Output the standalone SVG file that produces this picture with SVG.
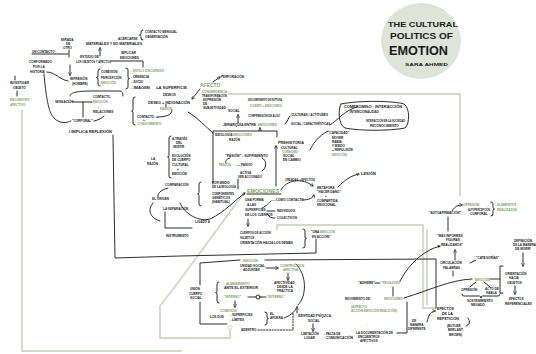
<svg xmlns="http://www.w3.org/2000/svg" width="536" height="354" viewBox="0 0 536 354">
<style>
text{font-family:"Liberation Sans",Arial,sans-serif;font-size:3.1px;font-weight:bold;fill:#1a1a1a}
text.g{fill:#84a066}
.ln{fill:none;stroke:#222;stroke-width:0.95;stroke-linecap:round;stroke-linejoin:round}
.gl{fill:none;stroke:#d2d8ca;stroke-width:1.8;stroke-linejoin:round}
.dt{stroke-dasharray:1.4 1.4}
</style>
<defs>
<marker id="ah" viewBox="0 0 6 6" refX="5" refY="3" markerWidth="3.5" markerHeight="3.5" orient="auto"><path d="M0,0 L6,3 L0,6" fill="none" stroke="#222" stroke-width="1.1"/></marker>
</defs>
<rect width="536" height="354" fill="#fff"/>

<g id="connectors">
<path class="gl" d="M22,110 V351 H182"/>
<path class="gl" d="M228,94 H460 V196"/>
<path class="gl" d="M244,193 L180,280 L160,306 V338 H230 V330"/>
<circle cx="230" cy="327.5" r="2" class="gl" style="stroke-width:1"/>
<path class="gl" d="M277,230 V225 H423 V308 H436"/>
<path class="gl" d="M427,229 V305"/>
<path class="ln" d="M32,54 H68 M69,50 V57"/>
<path class="ln" d="M100,56 V48" marker-end="url(#ah)"/>
<path class="ln" d="M111,61 H143 V67"/>
<path class="ln" d="M70,65 V75" marker-end="url(#ah)"/>
<path class="ln" d="M47,72 C55,72 60,80 68,81"/>
<path class="ln" d="M44,74 C46,95 48,112 54,118 C60,124 66,123 71,121"/>
<path class="ln" d="M94,121 C99,120 102,118 104,116"/>
<path class="ln" d="M70,96 C70,92 78,91 95,91 L120,91 Q123,91 123,96"/>
<path class="ln" d="M73,102 H92 M83,102 V117"/>
<path class="ln" d="M15,76 V80 M17,91 V96"/>
<path class="ln" d="M143,30 Q141,30 141,32 V33.5 Q141,35 139.5,35 Q141,35 141,36.5 V38 Q141,40 143,40"/>
<path class="ln" d="M100,69 Q98,69 98,71 V76 Q98,77.5 96.5,77.5 Q98,77.5 98,79 V84 Q98,86 100,86"/>
<path class="ln" d="M126,68 Q128,68 128,70 V77 Q128,78.5 129.5,78.5 Q128,78.5 128,80 V87 Q128,89 126,89"/>
<path class="ln" d="M135,97 Q133,97 133,99 V109.5 Q133,111 131.5,111 Q133,111 133,112.5 V123 Q133,125 135,125"/>
<path class="ln" d="M166,104.5 V107"/>
<path class="ln" d="M157,117 C166,117 172,115 172,110"/>
<path class="ln" d="M171,136 Q169,136 169,138 V155.5 Q169,157 167.5,157 Q169,157 169,158.5 V176 Q169,178 171,178"/>
<path class="ln" d="M113,135 L114,200 L115,258 L180,256 L316,253 V239"/>
<path class="ln" d="M303,229 Q305,229 305,231 V237 Q305,238.5 306.5,238.5 Q305,238.5 305,240 V246 Q305,248 303,248"/>
<path class="ln" d="M200,285 V263 L240,260 M265,260 L436,259 V308"/>
<path class="ln" d="M200,302 V324 H227"/>
<path class="ln" d="M200,89 L192,99" marker-end="url(#ah)"/>
<path class="ln" d="M188,112 C198,118 205,126 213,133"/>
<path class="ln" d="M238,123 V115" marker-end="url(#ah)"/>
<path class="ln" d="M285,124 C288,122 288,117 290,116"/>
<path class="ln" d="M330,125 C338,120 345,110 357,107"/>
<path class="ln" d="M328,131 C318,136 312,145 310,150"/>
<path class="ln" d="M341,104 C360,100 395,101 404,104 C410,108 410,124 405,128 C390,131 360,131 345,128 C338,125 338,108 341,104"/>
<path class="ln" d="M213,184 V131 H277 V137"/>
<path class="ln" d="M260,131 V128" marker-end="url(#ah)"/>
<path class="ln" d="M276,186 V146" marker-end="url(#ah)"/>
<path class="ln" d="M230,158 C226,159 225,161 226,163"/>
<path class="ln" d="M262,158 C267,160 267,168 262,171"/>
<path class="ln" d="M238,179 V189"/>
<path class="ln" d="M201,182 Q199,182 199,184 V192.5 Q199,194 197.5,194 Q199,194 199,195.5 V204 Q199,206 201,206"/>
<path class="ln" d="M247,194 H281"/>
<path class="ln" d="M281,190 C286,180 302,177 313,186" marker-end="url(#ah)"/>
<path class="ln" d="M338,187 C345,180 350,176 359,174" marker-end="url(#ah)"/>
<path class="ln" d="M302,200 C309,200 313,198 314,195" marker-end="url(#ah)"/>
<path class="ln" d="M262,208 C267,206 269,203 271,201"/>
<path class="ln" d="M267,211 H275 M267,214 C270,218 272,218 275,218"/>
<path class="ln" d="M248,219 V226" marker-end="url(#ah)"/>
<path class="ln" d="M168,188 C160,190 157,194 158,197"/>
<path class="ln" d="M153,203 C147,210 150,218 160,221"/>
<path class="ln" d="M165,212 V228 H192"/>
<path class="ln" d="M180,203 C185,215 200,222 210,219 C225,212 235,200 245,193" marker-end="url(#ah)"/>
<path class="ln" d="M266,268 H278" marker-end="url(#ah)"/>
<path class="ln" d="M288,273 V280" marker-end="url(#ah)"/>
<path class="ln" d="M296,264 C307,275 307,296 298,305"/>
<path class="ln" d="M297,313 V307" marker-end="url(#ah)"/>
<path class="ln" d="M219,282 Q217,282 217,284 V291 Q217,292.5 215.5,292.5 Q217,292.5 217,294 V301 Q217,303 219,303"/>
<circle cx="258" cy="297" r="2" class="ln"/>
<path class="ln" d="M248,297 H256 M260,297 H266"/>
<path class="ln" d="M235,301 V307" marker-end="url(#ah)"/>
<path class="ln" d="M265,312 Q267,312 267,314 V317 Q267,318.5 268.5,318.5 Q267,318.5 267,320 V323 Q267,325 265,325"/>
<path class="ln" d="M284,318 C290,316 294,312 296,309"/>
<path class="ln dt" d="M258,330 H293 V313"/>
<path class="ln" d="M313,324 V331" marker-end="url(#ah)"/>
<path class="ln" d="M375,283 H380"/>
<path class="ln" d="M393,287 V296"/>
<path class="ln" d="M400,281 C410,262 425,250 440,246" marker-end="url(#ah)"/>
<path class="ln" d="M404,298 C430,290 450,280 472,279"/>
<path class="ln" d="M455,260 V250" marker-end="url(#ah)"/>
<path class="ln" d="M470,263 L476,260"/>
<path class="ln" d="M453,271 V276"/>
<path class="ln" d="M397,333 H407 V302"/>
<path class="ln" d="M427,322 C429,314 431,311 435,311" marker-end="url(#ah)"/>
<path class="ln" d="M468,318 C471,322 469,325 466,326"/>
<path class="ln" d="M476,282 L470,287 M484,282 L490,287"/>
<path class="ln" d="M462,294 Q462,296 464,296 H479.5 Q481,296 481,298 Q481,296 482.5,296 H498 Q500,296 500,294"/>
<path class="ln" d="M490,279 H500 M503,266 H500 V293 H503"/>
<path class="ln" d="M515,286 V294" marker-end="url(#ah)"/>
<path class="ln" d="M523,253 V266" marker-end="url(#ah)"/>
<path class="ln" d="M452,211 C455,206 458,205 462,205" marker-end="url(#ah)"/>
<path class="ln" d="M448,217 V231"/>
<path class="ln" d="M491,202 Q493,202 493,204 V207.5 Q493,209 494.5,209 Q493,209 493,210.5 V214 Q493,216 491,216"/>
<path class="ln" d="M213,82 L220,77" marker-end="url(#ah)"/>
</g>

<g id="title">
<ellipse cx="421" cy="41" rx="40" ry="38" fill="#dfe4d8"/>
<text x="388" y="27" style="font-size:8px" textLength="70" lengthAdjust="spacingAndGlyphs">THE CULTURAL</text>
<text x="390" y="39" style="font-size:8.5px" textLength="63" lengthAdjust="spacingAndGlyphs">POLITICS OF</text>
<text x="389" y="55" style="font-size:13px" textLength="59" lengthAdjust="spacingAndGlyphs">EMOTION</text>
<text x="405" y="66" style="font-size:4.2px" textLength="43" lengthAdjust="spacingAndGlyphs">SARA AHMED</text>
</g>

<g id="n-mirada"><text x="61" y="41">MIRADA</text><text x="66" y="45">DE</text><text x="63" y="49">OTRO</text></g>
<g id="n-acercarse"><text x="118" y="40">ACERCARSE</text><text x="145" y="33" textLength="32" lengthAdjust="spacingAndGlyphs">CONTACTO MENSUAL</text><text x="145" y="38">OBSERVACIÓN</text></g>
<g id="n-materiales"><text x="86" y="45" textLength="56" lengthAdjust="spacingAndGlyphs">MATERIALES Y NO MATERIALES</text></g>
<g id="n-contacto"><text x="32" y="52.5">UN CONTACTO</text></g>
<g id="n-estudio"><text x="80" y="58">ESTUDIO DE</text><text x="76" y="63" textLength="35" lengthAdjust="spacingAndGlyphs">LOS OBJETOS Y AFECTOS</text></g>
<g id="n-implicar"><text x="121" y="54">IMPLICAR</text><text x="120" y="58.5">EMOCIONES</text></g>
<g id="n-conformado"><text x="29" y="63">CONFORMADO</text><text x="33" y="68">POR LA</text><text x="30" y="73">HISTORIA</text></g>
<g id="n-impresion"><text x="70" y="80">IMPRESIÓN</text><text x="72" y="85">(HOMBRE)</text></g>
<g id="n-conexion"><text x="101" y="73">CONEXIÓN</text><text x="101" y="78.5">PERCEPCIÓN</text><text x="101" y="84" class="g">EMOCIÓN</text></g>
<g id="n-estilo"><text x="131" y="72" class="g">- ESTILO DISCURSIVO</text><text x="131" y="78">- CREENCIA</text><text x="131" y="83">- JUICIO</text><text x="131" y="89" textLength="56" lengthAdjust="spacingAndGlyphs">- IMAGEN → LA SUPERFICIE</text></g>
<g id="n-investigar"><text x="10" y="84">INVESTIGAR</text><text x="13" y="89">OBJETO</text></g>
<g id="n-encuentro"><text x="10" y="101" class="g">ENCUENTRO</text><text x="10" y="106" class="g">AFECTIVO</text></g>
<g id="n-sensacion"><text x="55" y="103">SENSACIÓN</text></g>
<g id="n-relaciones"><text x="93" y="98">CONTACTO-</text><text x="93" y="103" class="g">EMOCIÓN</text><text x="98" y="108">↓</text><text x="93" y="113">RELACIONES</text></g>
<g id="n-corporal"><text x="72" y="122">"CORPORAL"</text></g>
<g id="n-reflexion"><text x="69" y="133" textLength="43" lengthAdjust="spacingAndGlyphs">I IMPLICA REFLEXIÓN</text></g>
<g id="n-deseo"><text x="163" y="96">DESEOS</text><text x="148" y="103.5" textLength="42" lengthAdjust="spacingAndGlyphs">DESEO + INDIGNACIÓN</text><text x="160" y="110" class="g">PASIÓN</text><text x="137" y="118">CONTACTO —</text><text x="143" y="121">+</text><text x="137" y="124.5" class="g">CONOCIMIENTO</text></g>
<g id="n-afecto"><text x="200" y="87" class="g" style="font-size:5px">AFECTO</text><text x="221" y="78">PERFORACIÓN</text></g>
<g id="n-subjetividad"><text x="202" y="92.5" class="g">CONVERGENCIA</text><text x="202" y="96.5" textLength="25" lengthAdjust="spacingAndGlyphs">TRANSFORMACIÓN</text><text x="203" y="101">EXPRESIÓN</text><text x="203" y="105">DE</text><text x="203" y="109" textLength="23" lengthAdjust="spacingAndGlyphs">SUBJETIVIDAD</text></g>
<g id="n-social"><text x="228" y="112">SOCIAL</text></g>
<g id="n-ruptura"><text x="248" y="101" textLength="34" lengthAdjust="spacingAndGlyphs">DESCUBRIMIENTO DE RUPTURA</text><text x="250" y="107" class="g" textLength="32" lengthAdjust="spacingAndGlyphs">(CUERPO + EMOCIONES)</text><text x="248" y="117" textLength="32" lengthAdjust="spacingAndGlyphs">COMPRENSIÓN DE ALGO</text></g>
<g id="n-jerarquia"><text x="223" y="126" textLength="33" lengthAdjust="spacingAndGlyphs">JERARQUÍA ENTRE</text><text x="258" y="126" class="g">EMOCIONES</text><text x="291" y="116" textLength="37" lengthAdjust="spacingAndGlyphs">CULTURAS / ACTITUDES</text><text x="291" y="125" textLength="39" lengthAdjust="spacingAndGlyphs">SOCIAL / CARACTERÍSTICAS</text></g>
<g id="n-compromiso"><text x="344" y="108" textLength="58" lengthAdjust="spacingAndGlyphs">COMPROMISO · INTERACCIÓN</text><text x="350" y="113">INTENCIONALIDAD</text><text x="366" y="122" textLength="39" lengthAdjust="spacingAndGlyphs">INTERACCIÓN EN LA SOCIEDAD</text><text x="370" y="127">RECONOCIMIENTO</text></g>
<g id="n-ideologia"><text x="215" y="136">IDEOLOGÍA</text><text x="233" y="136" class="g">EMOCIONES</text><text x="229" y="141">RAZÓN</text></g>
<g id="n-prehistoria"><text x="278" y="144" style="font-size:3.8px">PREHISTORIA</text><text x="281" y="149">CULTURAL</text><text x="282" y="153" class="g">CONSUMO</text><text x="283" y="157">SOCIAL</text><text x="283" y="161">EN CAMBIO</text></g>
<g id="n-capacidad"><text x="328" y="134">"CAPACIDAD"</text><text x="332" y="139">MOVER</text><text x="332" y="143">RABIA</text><text x="332" y="147">Y MIEDO</text><text x="332" y="151">+ REPULSIÓN</text><text x="332" y="156" class="g">EMOCIÓN</text></g>
<g id="n-pasion"><text x="225" y="157" textLength="43" lengthAdjust="spacingAndGlyphs">"PASIÓN" - SUFRIMIENTO</text><text x="219" y="166" class="g">PASIÓN</text><text x="237" y="166">— PASIVO</text><text x="240" y="174">ACTIVA</text><text x="238" y="178" textLength="24" lengthAdjust="spacingAndGlyphs">SER ACCIONADO</text></g>
<g id="n-razon"><text x="151" y="160">LA</text><text x="147" y="165">RAZÓN</text></g>
<g id="n-evolucion"><text x="172" y="140">A TRAVÉS</text><text x="176" y="144">DEL</text><text x="173" y="148">SENTIR</text><text x="177" y="152">↓</text><text x="172" y="157">EVOLUCIÓN</text><text x="172" y="161">DE CUERPO</text><text x="172" y="166">CULTURAL</text><text x="177" y="170">+</text><text x="172" y="175">EMOCIÓN</text></g>
<g id="n-biologia"><text x="212" y="184">POR MEDIO</text><text x="212" y="188" textLength="24" lengthAdjust="spacingAndGlyphs">DE LA BIOLOGÍA</text><text x="212" y="195" textLength="22" lengthAdjust="spacingAndGlyphs">COMPONENTES</text><text x="212" y="199">GENÉTICOS</text><text x="212" y="203">(HABITUAL)</text></g>
<g id="n-emociones"><text x="247" y="192.5" class="g" style="font-size:5.3px">EMOCIONES</text></g>
<g id="n-creadas"><text x="285" y="180.5" textLength="30" lengthAdjust="spacingAndGlyphs">CREADAS · (EFECTOS)</text></g>
<g id="n-metafora"><text x="317" y="189">METÁFORA</text><text x="317" y="193">"HACER DAÑO"</text><text x="325" y="197">+</text><text x="317" y="202">COMPARTIDA</text><text x="317" y="206">EMOCIONAL</text></g>
<g id="n-lesion"><text x="361" y="175" style="font-size:4px">LESIÓN</text></g>
<g id="n-superficies"><text x="245" y="201">UNA FORMA</text><text x="247" y="205.5">A LAS</text><text x="245" y="211">SUPERFICIES</text><text x="245" y="216">DE LOS CUERPOS</text></g>
<g id="n-comocontacto"><text x="272" y="201">— COMO CONTACTO</text></g>
<g id="n-individuos"><text x="277" y="212">INDIVIDUOS</text><text x="277" y="219">COLECTIVOS</text></g>
<g id="n-orientacion"><text x="240" y="234" textLength="31" lengthAdjust="spacingAndGlyphs">CUERPOS DE ACCIÓN/</text><text x="240" y="239">SUJETOS</text><text x="240" y="244" textLength="53" lengthAdjust="spacingAndGlyphs">ORIENTACIÓN HACIA LOS DEMÁS</text></g>
<g id="n-unaemocion"><text x="311" y="233">"UNA <tspan style="fill:#84a066">EMOCIÓN</tspan></text><text x="312" y="238">ES ACCIÓN"</text></g>
<g id="n-comparacion"><text x="165" y="186">COMPARACIÓN</text><text x="152" y="200">EL ORIGEN</text><text x="163" y="210">LA SEPARACIÓN</text></g>
<g id="n-ligado"><text x="195" y="223">LIGADO A</text><text x="166" y="237">INSTRUMENTO</text></g>
<g id="n-emocion-b"><text x="243" y="261.5" class="g">EMOCIÓN</text></g>
<g id="n-unidad"><text x="240" y="267" textLength="25" lengthAdjust="spacingAndGlyphs">UNIDAD SOCIAL</text><text x="243" y="271">ADJUNTAR</text><text x="280" y="267" class="g" textLength="24" lengthAdjust="spacingAndGlyphs">CONSTRUCCIÓN</text><text x="283" y="271" class="g">AFECTIVA</text></g>
<g id="n-afectividad"><text x="274" y="284">AFECTIVIDAD</text><text x="277" y="288">DESDE LA</text><text x="277" y="292">PRÁCTICA</text></g>
<g id="n-union"><text x="190" y="290">UNIÓN</text><text x="189" y="294.5">CUERPO</text><text x="190" y="299">SOCIAL</text></g>
<g id="n-interno"><text x="226" y="285" class="g">ALINEAMIENTO</text><text x="224" y="289" textLength="34" lengthAdjust="spacingAndGlyphs">ANTE EL EXTERIOR</text><text x="224" y="298" class="g">"INTERNO"</text><text x="267" y="298" class="g">"EXTERNO"</text></g>
<g id="n-limites"><text x="220" y="312" class="g">CONEXIÓN</text><text x="210" y="317.5">LOS DOS</text><text x="230" y="316">- SUPERFICIES</text><text x="230" y="321">- LÍMITES</text><text x="270" y="315">EL</text><text x="270" y="319">AFUERA</text></g>
<g id="n-adentro"><text x="241" y="331">ADENTRO</text></g>
<g id="n-identidad"><text x="298" y="317" textLength="34" lengthAdjust="spacingAndGlyphs">IDENTIDAD PSÍQUICA-</text><text x="308" y="322">SOCIAL</text><text x="301" y="335">LIMITACIÓN</text><text x="304" y="339">LUGAR</text><text x="324" y="335">- FALTA DE</text><text x="326" y="339" textLength="27" lengthAdjust="spacingAndGlyphs">COMUNICACIÓN</text></g>
<g id="n-adhiere"><text x="358" y="284">"ADHIERE"</text><text x="381" y="284" class="g">"PEGAJOSO"</text></g>
<g id="n-movimiento"><text x="345" y="300">MOVIMIENTO DE</text><text x="384" y="300" class="g">EMOCIONES</text></g>
<g id="n-aspecto"><text x="351" y="308" class="g">(ASPECTO</text><text x="351" y="312" class="g" textLength="46" lengthAdjust="spacingAndGlyphs">ACCIÓN-EMOCIÓN-REACCIÓN)</text></g>
<g id="n-documentacion"><text x="366" y="326">↑</text><text x="356" y="334" textLength="37" lengthAdjust="spacingAndGlyphs">LA DOCUMENTACIÓN DE</text><text x="358" y="338">ENCUENTROS</text><text x="360" y="342">AFECTIVOS</text></g>
<g id="n-manera"><text x="412" y="322">DE</text><text x="410" y="326">MANERA</text><text x="408" y="330">DIFERENTE</text></g>
<g id="n-efectos"><text x="437" y="310" style="font-size:3.6px">EFECTOS</text><text x="442" y="314.5" style="font-size:3.6px">DE LA</text><text x="437" y="319.5" style="font-size:3.6px">REPETICIÓN</text><text x="447" y="327">(BUTLER,</text><text x="448" y="331">BERLANT,</text><text x="449" y="336">BROWN)</text></g>
<g id="n-informes"><text x="437" y="237">"MÁS INFORMES,</text><text x="446" y="241">FIGURAS,</text><text x="441" y="246">REALIZAMOS"</text></g>
<g id="n-circulacion"><text x="440" y="264">CIRCULACIÓN</text><text x="443" y="269">PALABRAS</text><text x="476" y="259">"CATEGORÍAS"</text></g>
<g id="n-emocion-r"><text x="475" y="280.5" class="g">EMOCIÓN</text><text x="461" y="291">OPRESIÓN</text><text x="485" y="290">ACTO DE</text><text x="486" y="294">HABLA</text><text x="467" y="302" textLength="26" lengthAdjust="spacingAndGlyphs">SOSTENIMIENTO</text><text x="471" y="306">NEGADO</text></g>
<g id="n-definicion"><text x="514" y="242">DEFINICIÓN</text><text x="513" y="246" textLength="23" lengthAdjust="spacingAndGlyphs">DE LA MANERA</text><text x="515" y="250">DE MORIR</text></g>
<g id="n-objetos"><text x="505" y="275">ORIENTACIÓN</text><text x="509" y="279">HACIA</text><text x="507" y="283.5">OBJETOS</text><text x="509" y="300">EFECTOS</text><text x="505" y="304.5" textLength="27" lengthAdjust="spacingAndGlyphs">REFERENCIALES</text></g>
<g id="n-autoafirmacion"><text x="429" y="214" textLength="32" lengthAdjust="spacingAndGlyphs">"AUTOAFIRMACIÓN"</text><text x="463" y="206" class="g">OPRESIÓN</text><text x="468" y="210.5" textLength="22" lengthAdjust="spacingAndGlyphs">AUTOPERCEPCIÓN</text><text x="470" y="214.5">CORPORAL</text><text x="497" y="206" class="g">ELEMENTOS</text><text x="497" y="210.5" class="g">REALIZADOS</text></g>
</svg>
